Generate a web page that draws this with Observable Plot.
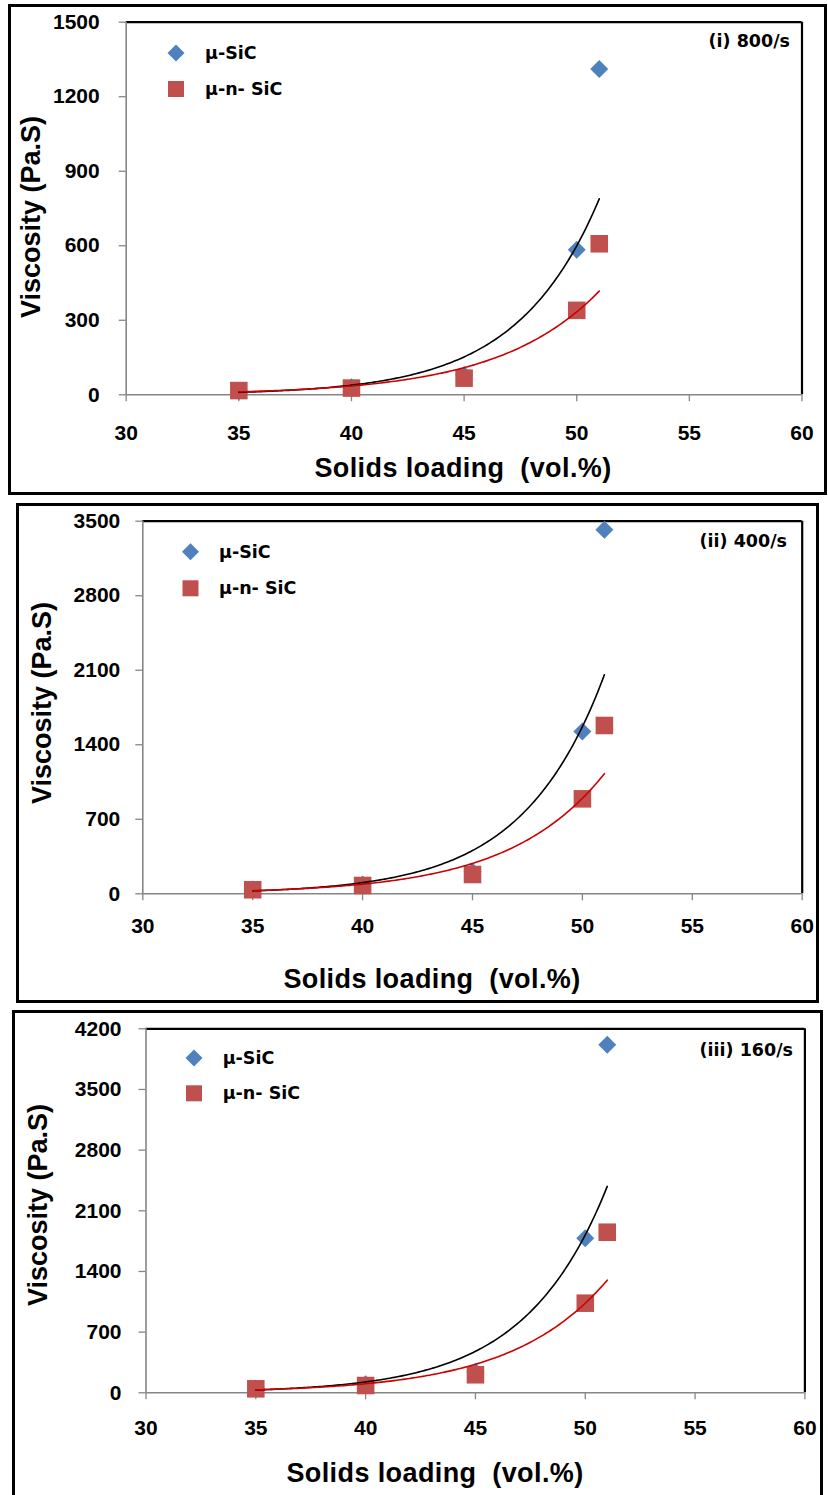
<!DOCTYPE html>
<html>
<head>
<meta charset="utf-8">
<script src="https://cdn.jsdelivr.net/npm/d3@7"></script>
<script src="https://cdn.jsdelivr.net/npm/@observablehq/plot@0.6"></script>
<style>
  html, body { margin: 0; padding: 0; background: #fff; }
  body { width: 828px; height: 1495px; position: relative; overflow: hidden; }
  .frame { position: absolute; border: 3px solid #000; box-sizing: border-box; }
  .panel { position: absolute; left: 0; width: 828px; }
  #overlay { position: absolute; left: 0; top: 0; }
</style>
</head>
<body>
<script>
// ---------------- data ----------------
const loading = [35, 40, 45, 50, 51];                 // solids loading, vol.%
const xTicks = [30, 35, 40, 45, 50, 55, 60];
const seriesNames = ["μ-SiC", "μ-n- SiC"];
const panelLabels = ["(i) 800/s", "(ii) 400/s", "(iii) 160/s"];

// (i) 800/s
const microSiC_800 = [15, 30, 80, 584, 1312];
const microNanoSiC_800 = [17, 27, 67, 340, 608];
const yTicks_800 = [0, 300, 600, 900, 1200, 1500];
// (ii) 400/s
const microSiC_400 = [40, 87, 207, 1525, 3419];
const microNanoSiC_400 = [38, 78, 181, 892, 1581];
const yTicks_400 = [0, 700, 1400, 2100, 2800, 3500];
// (iii) 160/s
const microSiC_160 = [50, 100, 240, 1784, 4015];
const microNanoSiC_160 = [46, 84, 208, 1034, 1853];
const yTicks_160 = [0, 700, 1400, 2100, 2800, 3500, 4200];

const xTitle = "Solids loading  (vol.%)";
const yTitle = "Viscosity (Pa.S)";

// ---------------- layout / style ----------------
const BLUE = "#4F81BD", RED = "#C0504D", FITRED = "#CC0000", AXISGRAY = "#868686";
const FONT = "'Liberation Sans', Arial, sans-serif";

const layout = [
  { top: 0, height: 500, mt: 21.7, mb: 105.7, ml: 125.7, mr: 26.5, xPad: 23, yPad: 19.5,
    frame: {l: 8, t: 4, r: 827, b: 495},
    xTitle: [463, 477], yTitle: [31, 217], label: [790, 41], legX: 176, legY: [53, 89], legTextX: 205 },
  { top: 500, height: 500, mt: 20.7, mb: 106.7, ml: 142.3, mr: 26.3, xPad: 17.5, yPad: 15.5,
    frame: {l: 16, t: 503, r: 819, b: 1003},
    xTitle: [432, 988], yTitle: [42, 703], label: [787, 541], legX: 190.5, legY: [551.7, 588.3], legTextX: 219 },
  { top: 1005, height: 490, mt: 23.3, mb: 102.7, ml: 145.5, mr: 23.6, xPad: 20, yPad: 17.5,
    frame: {l: 12, t: 1010, r: 823, b: 1500},
    xTitle: [435, 1482], yTitle: [38, 1205], label: [793, 1050], legX: 194, legY: [1058, 1093.3], legTextX: 222.7 }
];

const panels = [
  {blue: microSiC_800, red: microNanoSiC_800, yTicks: yTicks_800},
  {blue: microSiC_400, red: microNanoSiC_400, yTicks: yTicks_400},
  {blue: microSiC_160, red: microNanoSiC_160, yTicks: yTicks_160}
];

// Exponential trendline (least squares on ln y), as the source chart's trendlines
function expTrend(xs, ys) {
  const ly = ys.map(Math.log);
  const mx = d3.mean(xs), my = d3.mean(ly);
  const b = d3.sum(xs, (x, i) => (x - mx) * (ly[i] - my)) / d3.sum(xs, x => (x - mx) ** 2);
  const a = my - b * mx;
  const [x0, x1] = d3.extent(xs);
  return d3.range(0, 161).map(i => x0 + (x1 - x0) * i / 160).map(x => ({x, y: Math.exp(a + b * x)}));
}

panels.forEach((p, k) => {
  const L = layout[k];
  const f = document.createElement("div");
  f.className = "frame";
  Object.assign(f.style, {left: L.frame.l + "px", top: L.frame.t + "px",
    width: (L.frame.r - L.frame.l) + "px", height: (L.frame.b - L.frame.t) + "px"});
  document.body.appendChild(f);

  const blueData = loading.map((x, i) => ({x, y: p.blue[i]}));
  const redData = loading.map((x, i) => ({x, y: p.red[i]}));
  const yT = p.yTicks;

  const chart = Plot.plot({
    width: 828, height: L.height,
    marginTop: L.mt, marginBottom: L.mb, marginLeft: L.ml, marginRight: L.mr,
    x: {domain: [xTicks[0], xTicks[xTicks.length - 1]]},
    y: {domain: [yT[0], yT[yT.length - 1]]},
    style: {fontFamily: FONT, fontSize: "21px", fontWeight: "bold",
            color: "#000", background: "transparent", overflow: "visible"},
    marks: [
      Plot.ruleY([yT[yT.length - 1]], {stroke: "#000", strokeWidth: 2.2}),
      Plot.ruleX([xTicks[xTicks.length - 1]], {stroke: "#000", strokeWidth: 2.2}),
      Plot.ruleY([yT[0]], {stroke: AXISGRAY, strokeWidth: 1.6}),
      Plot.ruleX([xTicks[0]], {stroke: AXISGRAY, strokeWidth: 1.6}),
      Plot.axisX({ticks: xTicks, tickSize: 7, tickPadding: L.xPad, stroke: AXISGRAY, strokeWidth: 1.3,
                  fill: "#000", fontSize: 21, fontWeight: "bold", fontFamily: FONT,
                  label: null, tickFormat: d => String(d)}),
      Plot.axisY({ticks: yT, tickSize: 7, tickPadding: L.yPad, stroke: AXISGRAY, strokeWidth: 1.3,
                  fill: "#000", fontSize: 21, fontWeight: "bold", fontFamily: FONT,
                  label: null, tickFormat: d => String(d)}),
      Plot.dot(blueData, {x: "x", y: "y", symbol: "diamond2", r: 8.1, fill: BLUE, stroke: null}),
      Plot.dot(redData, {x: "x", y: "y", symbol: "square", r: 9.9, fill: RED, stroke: null}),
      Plot.line(expTrend(loading, p.blue), {x: "x", y: "y", stroke: "#000", strokeWidth: 1.6}),
      Plot.line(expTrend(loading, p.red), {x: "x", y: "y", stroke: FITRED, strokeWidth: 1.6})
    ]
  });
  const wrap = document.createElement("div");
  wrap.className = "panel";
  wrap.style.top = L.top + "px";
  wrap.appendChild(chart);
  document.body.appendChild(wrap);
});

// ---------------- titles, legends, panel labels ----------------
const svg = d3.select("body").append("svg").attr("id", "overlay")
  .attr("width", 828).attr("height", 1495);

layout.forEach((L, k) => {
  svg.append("text")
    .attr("x", L.xTitle[0]).attr("y", L.xTitle[1])
    .attr("text-anchor", "middle")
    .attr("font-family", FONT)
    .attr("font-weight", "bold").attr("font-size", 27)
    .attr("letter-spacing", 0.4)
    .style("white-space", "pre")
    .text(xTitle);

  svg.append("text")
    .attr("transform", `translate(${L.yTitle[0]},${L.yTitle[1]}) rotate(-90)`)
    .attr("text-anchor", "middle").attr("dominant-baseline", "central")
    .attr("font-family", FONT)
    .attr("font-weight", "bold").attr("font-size", 27)
    .text(yTitle);

  svg.append("text")
    .attr("x", L.label[0]).attr("y", L.label[1])
    .attr("text-anchor", "end").attr("dominant-baseline", "central")
    .attr("font-family", "'DejaVu Sans', sans-serif")
    .attr("font-weight", "bold").attr("font-size", 17.5)
    .text(panelLabels[k]);

  // legend
  const d = 8.5, s = 16;
  const cx = L.legX, cy0 = L.legY[0], cy1 = L.legY[1];
  svg.append("path")
    .attr("d", `M${cx},${cy0 - d}L${cx + d},${cy0}L${cx},${cy0 + d}L${cx - d},${cy0}Z`)
    .attr("fill", BLUE);
  svg.append("rect")
    .attr("x", cx - s / 2).attr("y", cy1 - s / 2).attr("width", s).attr("height", s)
    .attr("fill", RED);
  [cy0, cy1].forEach((cy, i) => {
    svg.append("text")
      .attr("x", L.legTextX).attr("y", cy)
      .attr("dominant-baseline", "central")
      .attr("font-family", "'DejaVu Sans', sans-serif")
      .attr("font-weight", "bold").attr("font-size", 17.5)
      .style("white-space", "pre")
      .text(seriesNames[i]);
  });
});
</script>
</body>
</html>
